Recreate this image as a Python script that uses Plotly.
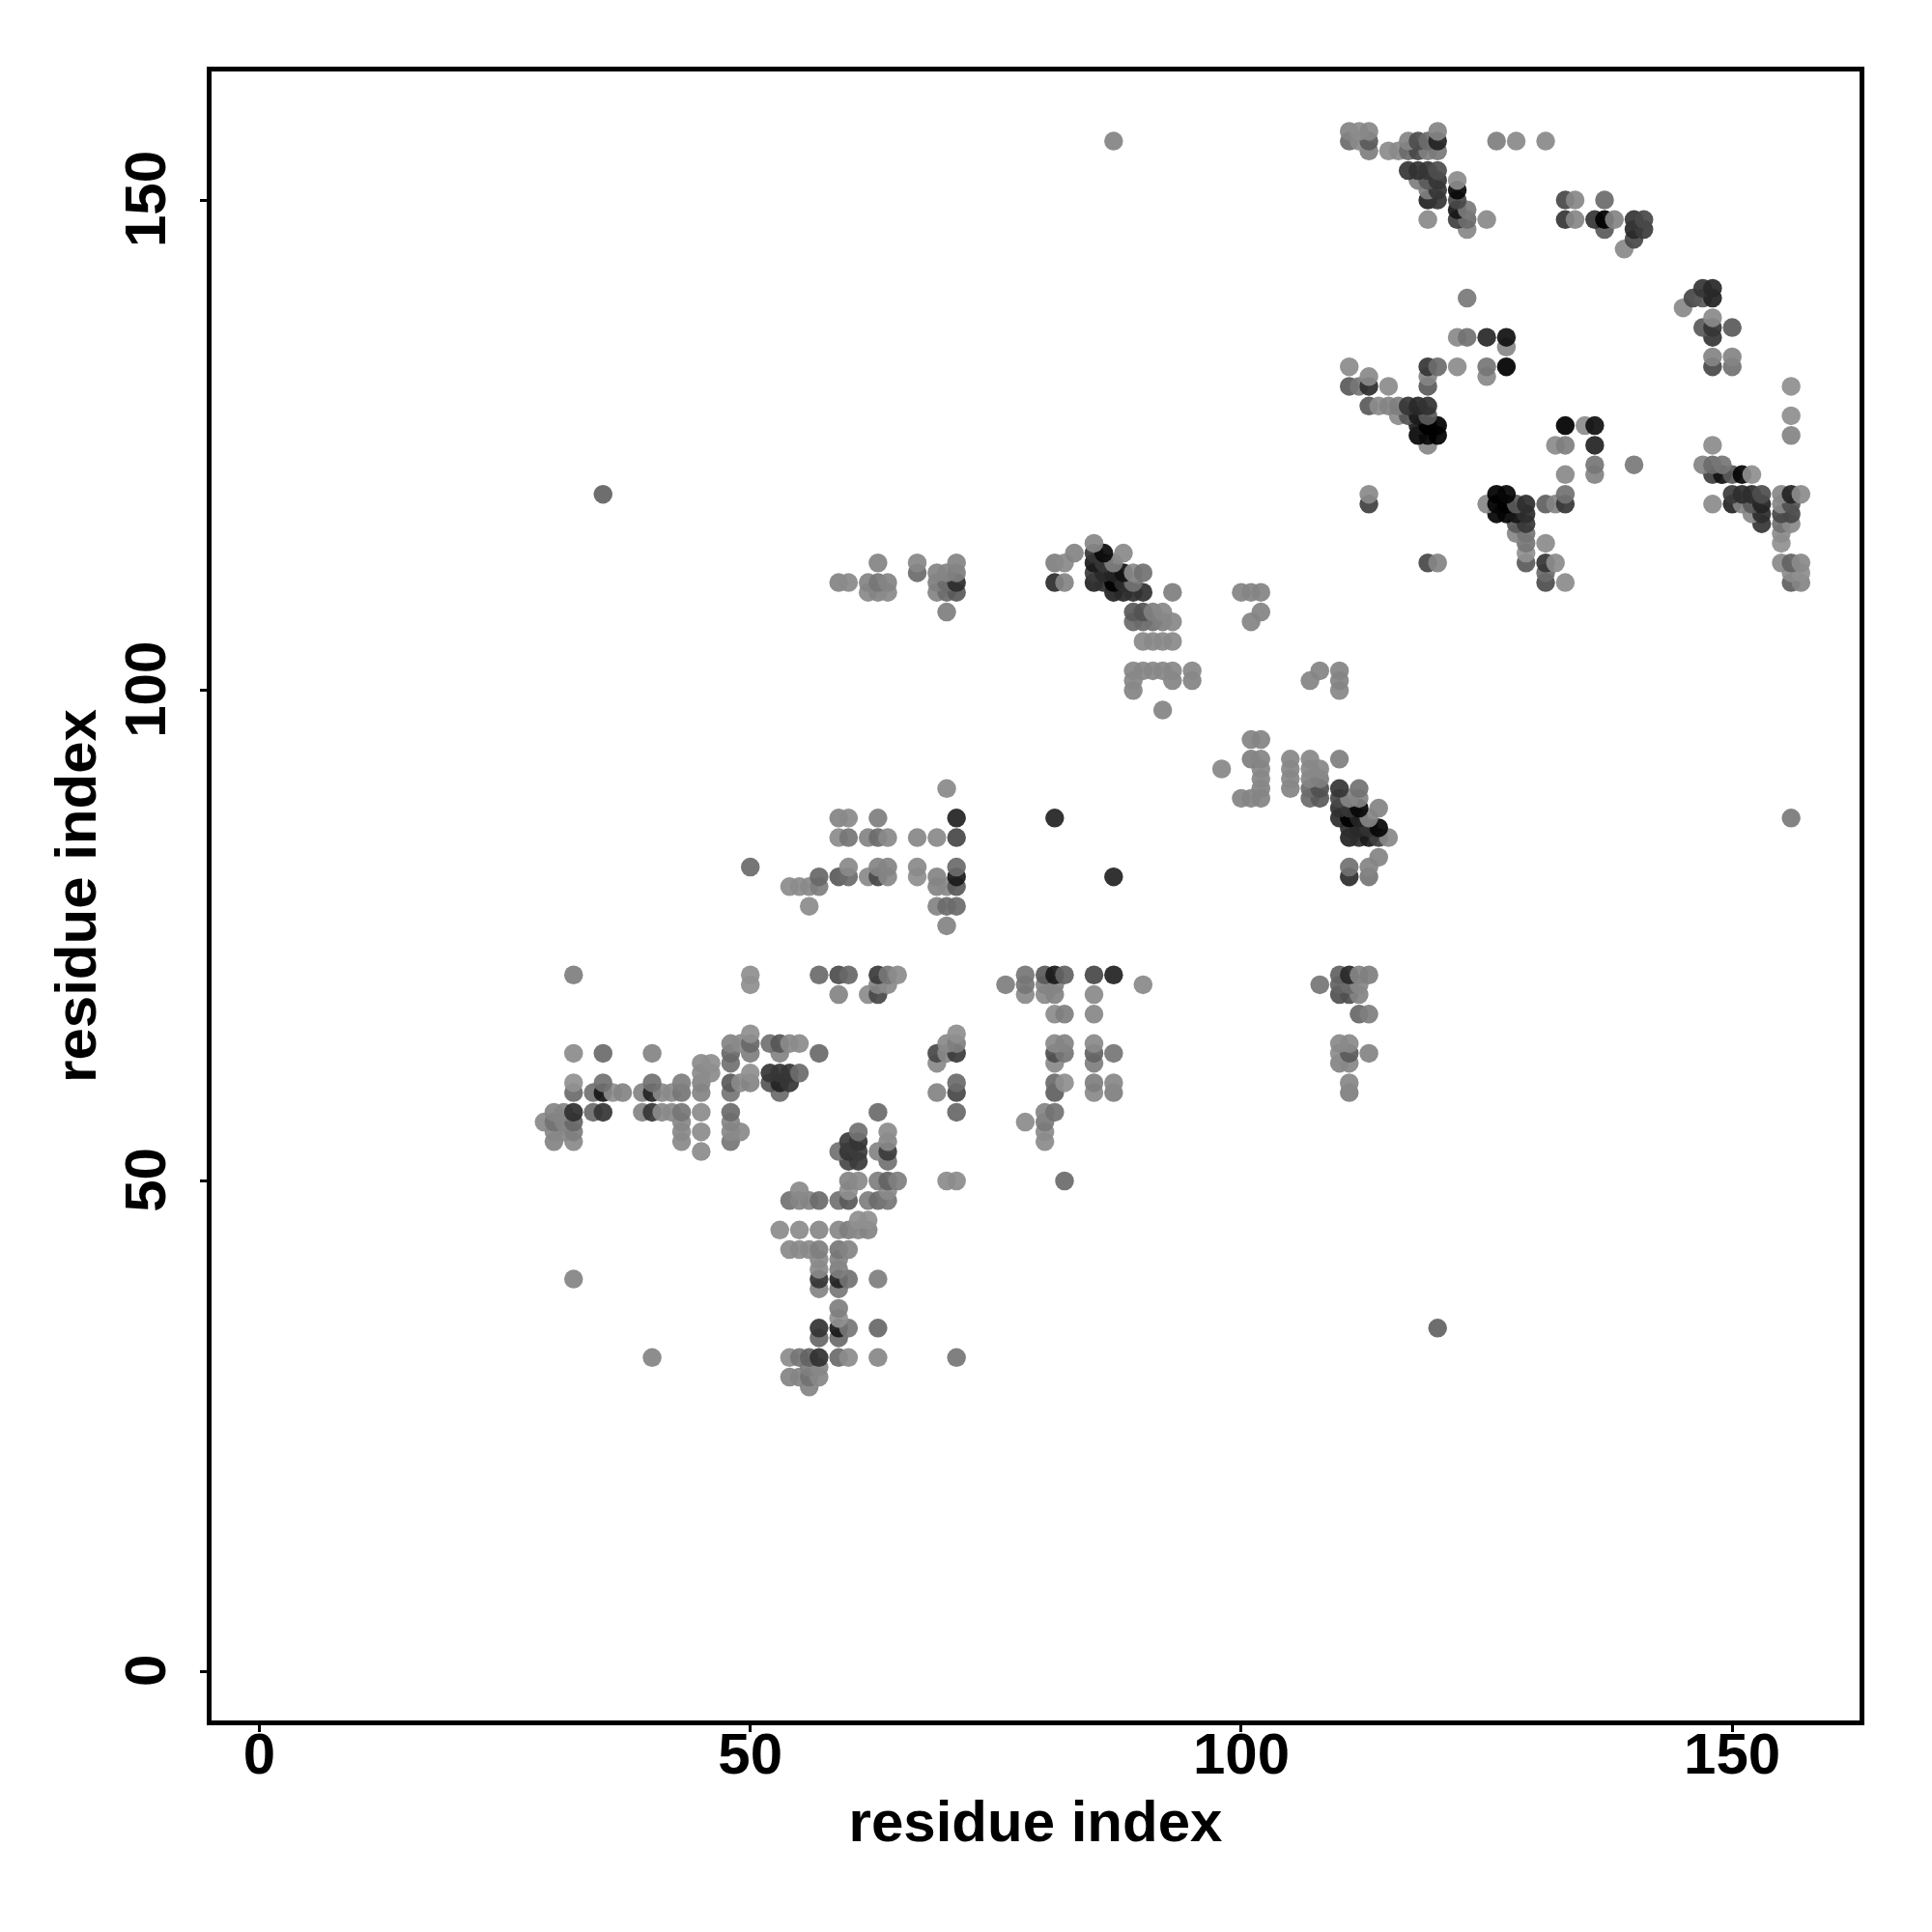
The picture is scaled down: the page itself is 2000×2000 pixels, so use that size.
import plotly.graph_objects as go

row_j = [29, 30, 31, 32, 34, 35, 36, 37, 39, 40, 41, 42, 43, 45, 46, 48, 49, 50, 52, 53, 54, 55, 56, 57, 59, 60, 61, 62, 63, 64, 65, 67, 69, 70, 71,
         76, 78, 80, 81, 82, 83, 85, 86, 87, 88, 89, 90, 91, 92, 93, 95, 98, 100, 101, 102, 105, 107, 108, 110, 111, 112, 113, 114, 115, 116, 117, 118, 119, 120,
         122, 123, 125, 126, 127, 128, 129, 131, 132, 133, 134, 135, 136, 137, 138, 139, 140, 141, 145, 146, 147, 148, 149, 150, 151, 152, 153, 155, 156, 157]

row_i = [
    [56],
    [54, 55, 56, 57],
    [56, 57],
    [40, 54, 55, 56, 57, 59, 60, 63, 71],
    [57, 59],
    [57, 59, 60, 63, 120],
    [59],
    [59],
    [57, 59],
    [32, 57, 59, 60, 63],
    [57, 59],
    [57, 59],
    [54, 55, 56, 57, 59, 60],
    [53, 55, 57, 59, 60, 61, 62],
    [61, 62],
    [54, 55, 56, 57, 59, 60, 62, 63, 64],
    [55, 60, 64],
    [60, 61, 63, 64, 65, 70, 71, 82],
    [60, 61, 64],
    [45, 59, 60, 61, 63, 64],
    [30, 32, 43, 48, 60, 61, 64, 80],
    [30, 31, 32, 43, 45, 48, 49, 61, 64, 80],
    [29, 30, 31, 32, 43, 48, 78, 80],
    [30, 31, 32, 34, 35, 39, 40, 41, 42, 43, 45, 48, 63, 71, 80, 81],
    [32, 34, 35, 36, 37, 39, 40, 41, 42, 43, 45, 48, 53, 69, 71, 81, 85, 87, 111],
    [32, 35, 40, 43, 45, 48, 49, 50, 52, 53, 54, 71, 81, 82, 85, 87, 111],
    [45, 46, 50, 52, 53, 54, 55],
    [45, 46, 48, 69, 81, 85, 110, 111],
    [32, 35, 40, 48, 50, 53, 57, 69, 70, 71, 81, 82, 85, 87, 110, 111, 113],
    [48, 49, 50, 52, 53, 54, 55, 70, 71, 81, 82, 85, 110, 111],
    [50, 71],
    [81, 82, 85, 112, 113],
    [59, 62, 63, 78, 80, 81, 85, 110, 111, 112],
    [50, 63, 64, 76, 78, 80, 81, 90, 108, 110, 111, 112],
    [32, 50, 57, 59, 60, 63, 64, 65, 78, 80, 81, 82, 85, 87, 110, 111, 112, 113],
    [70],
    [56, 69, 70, 71],
    [54, 55, 56, 57, 69, 70, 71],
    [57, 59, 60, 62, 63, 64, 67, 69, 71, 87, 111, 113],
    [50, 60, 63, 64, 67, 71, 111, 113],
    [114],
    [59, 60, 62, 63, 64, 67, 69, 71, 111, 112, 113, 114, 115],
    [111, 112, 113, 114],
    [59, 60, 63, 71, 81, 110, 111, 112, 113, 156],
    [110, 111, 112, 114],
    [100, 101, 102, 107, 108, 110, 111, 112],
    [70, 102, 105, 107, 108, 110, 112],
    [102, 105, 107, 108],
    [98, 102, 105, 107, 108],
    [101, 102, 105, 107, 110],
    [101, 102],
    [92],
    [89, 110],
    [89, 93, 95, 107, 110],
    [89, 90, 91, 92, 93, 95, 108, 110],
    [90, 91, 92, 93],
    [89, 90, 91, 92, 93, 101],
    [70, 89, 90, 91, 92, 102],
    [62, 63, 64, 69, 70, 71, 87, 88, 89, 90, 93, 100, 101, 102],
    [59, 60, 62, 63, 64, 69, 70, 71, 81, 82, 85, 86, 87, 88, 89, 131, 133, 156, 157],
    [67, 69, 70, 71, 85, 86, 87, 88, 89, 90, 131, 156, 157],
    [63, 67, 71, 81, 82, 85, 86, 87, 119, 120, 129, 131, 132, 155, 156, 157],
    [83, 85, 86, 88, 129],
    [85, 129, 131, 155],
    [128, 129, 155],
    [128, 129, 153, 155, 156],
    [126, 127, 128, 129, 152, 153, 155, 156],
    [113, 125, 126, 127, 128, 129, 131, 132, 133, 148, 150, 151, 152, 153, 155, 156],
    [35, 113, 126, 127, 133, 150, 151, 152, 153, 155, 156, 157],
    [133, 136, 148, 149, 150, 151, 152],
    [136, 140, 147, 148, 149],
    [119, 132, 133, 136, 148],
    [118, 119, 120, 156],
    [118, 119, 120, 133, 135, 136],
    [116, 117, 118, 119, 156],
    [113, 114, 115, 116, 117, 118, 119],
    [111, 112, 113, 115, 119, 156],
    [113, 119, 125],
    [111, 119, 120, 122, 125, 127, 148, 150],
    [148, 150],
    [127],
    [122, 123, 125, 127, 148],
    [147, 148, 150],
    [148],
    [145],
    [123, 146, 147, 148],
    [147, 148],
    [139],
    [140],
    [123, 137, 140, 141],
    [119, 122, 123, 125, 133, 134, 136, 137, 138, 140, 141],
    [122, 123],
    [119, 120, 122, 133, 134, 137],
    [119, 120, 122],
    [118, 119, 120, 122],
    [117, 118, 119, 120],
    [113, 115, 116, 117, 118, 119, 120],
    [87, 111, 112, 113, 117, 118, 119, 120, 126, 128, 131],
    [111, 112, 113, 120],
]

row_shade = [
    [0x85],
    [0x85, 0x85, 0x75, 0x88],
    [0x80, 0x88],
    [0x85, 0x8c, 0x78, 0x68, 0x3c, 0x70, 0x8c, 0x88, 0x78],
    [0x6c, 0x70],
    [0x3f, 0x28, 0x78, 0x6c, 0x68],
    [0x90],
    [0x80],
    [0x85, 0x7a],
    [0x85, 0x3f, 0x30, 0x75, 0x80],
    [0x8a, 0x80],
    [0x8a, 0x85],
    [0x8a, 0x8a, 0x8a, 0x80, 0x78, 0x85],
    [0x8c, 0x8c, 0x88, 0x88, 0x80, 0x88, 0x85],
    [0x8e, 0x8e],
    [0x75, 0x85, 0x85, 0x70, 0x75, 0x60, 0x80, 0x70, 0x78],
    [0x8a, 0x8e, 0x8a],
    [0x85, 0x8a, 0x80, 0x68, 0x80, 0x8c, 0x8c, 0x70],
    [0x50, 0x45, 0x75],
    [0x8c, 0x75, 0x3f, 0x45, 0x85, 0x45],
    [0x85, 0x8a, 0x8a, 0x78, 0x45, 0x3f, 0x88, 0x8c],
    [0x88, 0x88, 0x80, 0x8a, 0x8c, 0x8a, 0x8a, 0x75, 0x8c, 0x8c],
    [0x8a, 0x75, 0x85, 0x6c, 0x88, 0x85, 0x8c, 0x7c],
    [0x85, 0x85, 0x3a, 0x70, 0x40, 0x85, 0x40, 0x8a, 0x8a, 0x78, 0x8c, 0x70, 0x70, 0x6c, 0x85, 0x75],
    [0x70, 0x75, 0x25, 0x8e, 0x85, 0x85, 0x30, 0x8a, 0x8a, 0x78, 0x85, 0x78, 0x70, 0x85, 0x50, 0x65, 0x8a, 0x80, 0x80],
    [0x90, 0x75, 0x75, 0x80, 0x85, 0x60, 0x8a, 0x85, 0x5c, 0x30, 0x40, 0x70, 0x70, 0x8e, 0x80, 0x88, 0x88],
    [0x8c, 0x8c, 0x8e, 0x40, 0x40, 0x40, 0x70],
    [0x8c, 0x8e, 0x75, 0x8a, 0x8a, 0x80, 0x85, 0x88],
    [0x8c, 0x70, 0x85, 0x6c, 0x80, 0x85, 0x6f, 0x50, 0x88, 0x45, 0x55, 0x78, 0x68, 0x78, 0x8c, 0x60, 0x85],
    [0x85, 0x8a, 0x6c, 0x75, 0x5c, 0x8a, 0x8c, 0x8a, 0x80, 0x8a, 0x85, 0x8a, 0x8a, 0x8a],
    [0x8e, 0x8e],
    [0x8c, 0x80, 0x88, 0x6c, 0x80],
    [0x85, 0x8c, 0x50, 0x8a, 0x8a, 0x85, 0x8a, 0x58, 0x58, 0x85],
    [0x8e, 0x85, 0x8a, 0x80, 0x78, 0x85, 0x85, 0x8a, 0x78, 0x68, 0x70, 0x88],
    [0x80, 0x8e, 0x70, 0x55, 0x6c, 0x45, 0x78, 0x8c, 0x78, 0x60, 0x28, 0x68, 0x50, 0x30, 0x68, 0x35, 0x85, 0x80],
    [0x85],
    [0x8c, 0x85, 0x70, 0x70],
    [0x8c, 0x8c, 0x8a, 0x80, 0x85, 0x8a, 0x60],
    [0x6c, 0x60, 0x70, 0x8a, 0x50, 0x88, 0x8e, 0x85, 0x28, 0x30, 0x38, 0x78],
    [0x70, 0x8a, 0x85, 0x85, 0x8a, 0x70, 0x75, 0x85],
    [0x85],
    [0x8c, 0x78, 0x85, 0x70, 0x8a, 0x88, 0x8a, 0x50, 0x30, 0x38, 0x28, 0x48, 0x88],
    [0x38, 0x35, 0x3c, 0x18],
    [0x85, 0x8a, 0x80, 0x30, 0x30, 0x38, 0x10, 0x30, 0x85, 0x7c],
    [0x3a, 0x40, 0x18, 0x85],
    [0x85, 0x85, 0x85, 0x70, 0x60, 0x50, 0x85, 0x85],
    [0x8a, 0x85, 0x85, 0x70, 0x58, 0x40, 0x75],
    [0x88, 0x88, 0x85, 0x80],
    [0x88, 0x88, 0x88, 0x88, 0x88],
    [0x80, 0x85, 0x88, 0x88, 0x80],
    [0x85, 0x85],
    [0x85],
    [0x85, 0x88],
    [0x88, 0x85, 0x85, 0x85, 0x85],
    [0x88, 0x88, 0x88, 0x88, 0x88, 0x88, 0x85, 0x85],
    [0x8a, 0x8a, 0x8a, 0x8a],
    [0x70, 0x70, 0x75, 0x80, 0x88, 0x85],
    [0x80, 0x60, 0x5a, 0x80, 0x88, 0x85],
    [0x8a, 0x85, 0x8a, 0x85, 0x70, 0x60, 0x30, 0x35, 0x3a, 0x3c, 0x80, 0x85, 0x85, 0x85],
    [0x85, 0x8a, 0x85, 0x78, 0x85, 0x80, 0x70, 0x38, 0x38, 0x85, 0x30, 0x3a, 0x08, 0x38, 0x75, 0x55, 0x8c, 0x65, 0x85],
    [0x70, 0x85, 0x85, 0x80, 0x45, 0x35, 0x30, 0x20, 0x8a, 0x75, 0x70, 0x8c, 0x8e],
    [0x85, 0x88, 0x85, 0x80, 0x8a, 0x28, 0x40, 0x80, 0x50, 0x85, 0x60, 0x40, 0x8c, 0x8a, 0x68, 0x8a],
    [0x85, 0x40, 0x1a, 0x8a, 0x90],
    [0x88, 0x78, 0x8c, 0x90],
    [0x88, 0x78, 0x8c],
    [0x60, 0x42, 0x40, 0x75, 0x8a],
    [0x15, 0x15, 0x25, 0x38, 0x8a, 0x38, 0x50, 0x50],
    [0x48, 0x88, 0x15, 0x10, 0x60, 0x38, 0x65, 0x85, 0x40, 0x8c, 0x30, 0x85, 0x60, 0x30, 0x88, 0x58],
    [0x68, 0x8a, 0x08, 0x15, 0x75, 0x45, 0x38, 0x38, 0x55, 0x88, 0x30, 0x8c],
    [0x8a, 0x85, 0x48, 0x20, 0x60, 0x15, 0x8e],
    [0x78, 0x7c, 0x85, 0x70, 0x78],
    [0x88, 0x8c, 0x80, 0x30, 0x8c],
    [0x18, 0x1a, 0x05, 0x85],
    [0x28, 0x0a, 0x12, 0x00, 0x8c, 0x20],
    [0x8c, 0x5c, 0x28, 0x60, 0x8e],
    [0x60, 0x8c, 0x85, 0x80, 0x40, 0x35, 0x3c],
    [0x60, 0x78, 0x38, 0x8c, 0x60, 0x8e],
    [0x8a, 0x85, 0x8a],
    [0x8c, 0x40, 0x70, 0x8c, 0x78, 0x00, 0x50, 0x75],
    [0x85, 0x85],
    [0x88],
    [0x8a, 0x75, 0x35, 0x20, 0x40],
    [0x60, 0x40, 0x60],
    [0x8a],
    [0x8a],
    [0x7c, 0x50, 0x60, 0x30],
    [0x40, 0x35],
    [0x8a],
    [0x50],
    [0x88, 0x60, 0x35, 0x45],
    [0x8a, 0x48, 0x70, 0x8a, 0x40, 0x88, 0x40, 0x00, 0x85, 0x40, 0x50],
    [0x25, 0x7c],
    [0x30, 0x40, 0x50, 0x50, 0x88, 0x70],
    [0x80, 0x40, 0x18],
    [0x80, 0x60, 0x40, 0x8c],
    [0x40, 0x3c, 0x40, 0x55],
    [0x80, 0x8c, 0x8a, 0x70, 0x50, 0x80, 0x7c],
    [0x85, 0x70, 0x8a, 0x60, 0x85, 0x55, 0x70, 0x30, 0x80, 0x8a, 0x8a],
    [0x85, 0x8c, 0x88, 0x85],
]

tick_values = [0, 50, 100, 150]
axis_label = "residue index"

ALPHA = 0.93
SHADE_GAIN = 1.06
xs, ys, colors = [], [], []
for j, ii, ss in zip(row_j, row_i, row_shade):
    for i, s in zip(ii, ss):
        g = max(0, round((s * SHADE_GAIN - 255 * (1 - ALPHA)) / ALPHA))
        xs.append(i)
        ys.append(j)
        colors.append(f"rgba({g},{g},{g},{ALPHA})")

font = "Liberation Sans"
fig = go.Figure(go.Scatter(
    x=xs, y=ys, mode="markers",
    marker=dict(size=19.5, color=colors, line=dict(width=0)),
    showlegend=False, hoverinfo="skip",
))

axis = dict(
    tickmode="array", tickvals=tick_values, ticktext=[str(t) for t in tick_values],
    showgrid=False, zeroline=False, showline=True, mirror=True,
    linecolor="black", linewidth=5,
    ticks="outside", ticklen=7, tickwidth=3, tickcolor="black",
    tickfont=dict(family=font, size=60, color="black", weight="bold"),
    automargin=False,
)
fig.update_layout(
    width=2000, height=2000,
    paper_bgcolor="white", plot_bgcolor="white",
    margin=dict(l=211, r=83, t=66, b=227, pad=0),
    xaxis=dict(axis, range=[-4.87, 162.97], ticklabelstandoff=-29,
               title=dict(text=f"<b>{axis_label}</b>", standoff=17,
                          font=dict(family=font, size=60, color="black"))),
    yaxis=dict(axis, range=[-5.0, 163.1], tickangle=-90,
               ticklabelstandoff=12, ticklabelshift=8,
               title=dict(text=f"<b>{axis_label}</b>", standoff=0,
                          font=dict(family=font, size=60, color="black"))),
)
fig.write_html("out.html")
